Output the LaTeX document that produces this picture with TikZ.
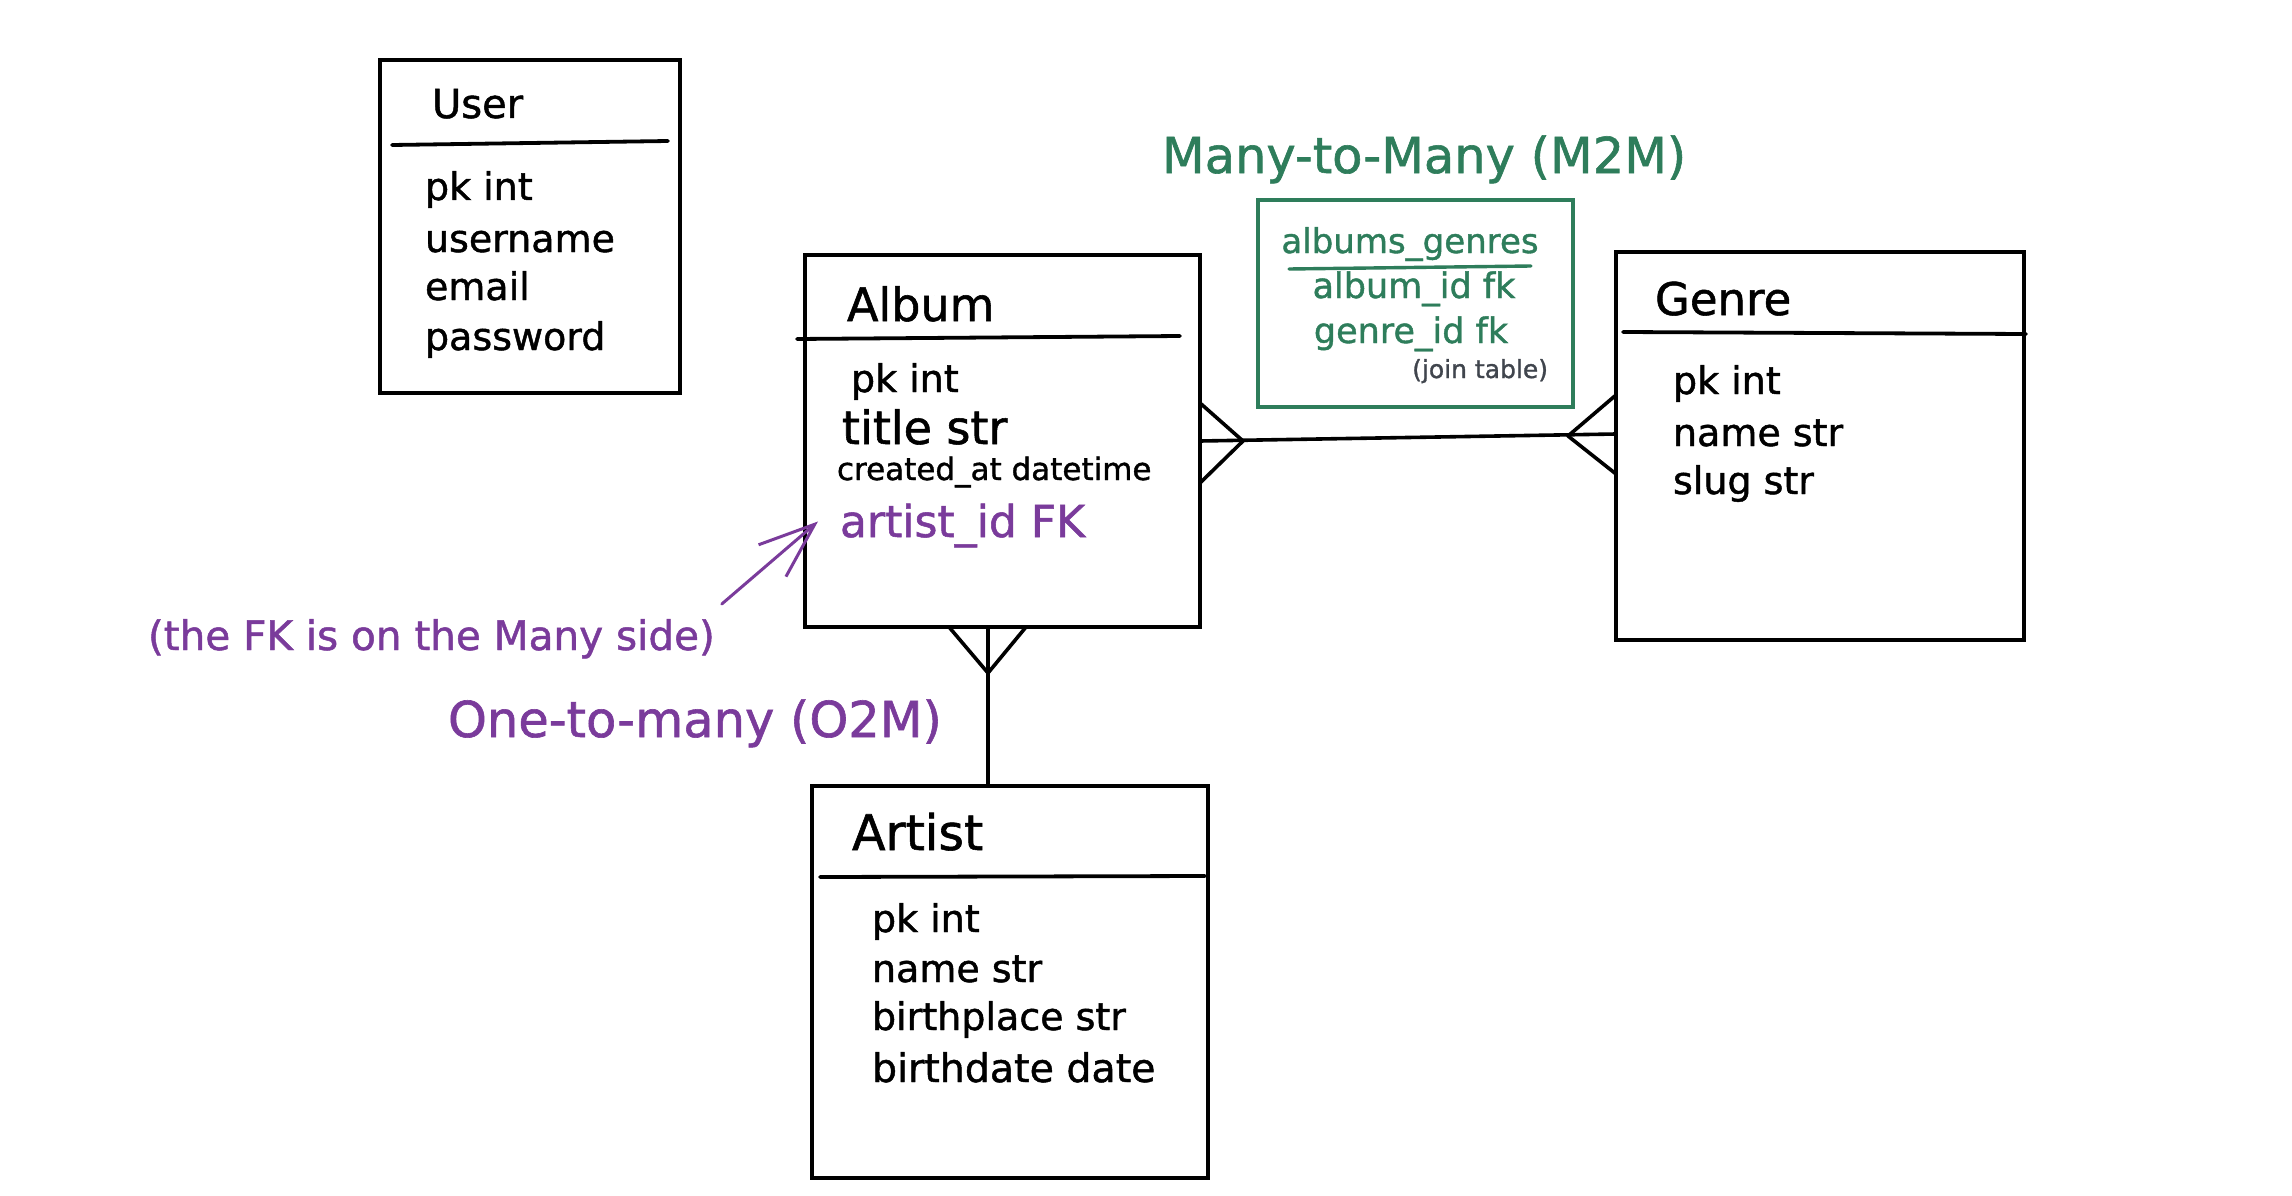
\documentclass[tikz,border=0pt]{standalone}
\usepackage{fontspec}
\setmainfont[FakeBold=0]{DejaVu Sans}
\newfontfamily\heavyfont[FakeBold=1.2]{DejaVu Sans}
\usetikzlibrary{arrows.meta,calc}
\definecolor{mgreen}{HTML}{2E7D5B}
\definecolor{mpurple}{HTML}{7A3B9B}
\definecolor{mgray}{HTML}{40454D}
\begin{document}
\begin{tikzpicture}[x=1pt,y=-1pt,
  ent/.style={draw=black,line width=3.8pt,inner sep=0pt,outer sep=0pt},
  jointbl/.style={draw=mgreen,line width=3.4pt,inner sep=0pt,outer sep=0pt},
  sepline/.style={line width=3.8pt,line cap=round},
  conn/.style={line width=3.6pt,line cap=round,line join=round},
  fs/.style={font=\heavyfont\fontsize{#1}{#1}\selectfont},
  row/.style={anchor=base west,inner sep=0pt,outer sep=0pt,fs=38},
  ttl/.style={anchor=base west,inner sep=0pt,outer sep=0pt,fs=#1},
  jrow/.style={anchor=base,inner sep=0pt,outer sep=0pt,text=mgreen,fs=#1},
  lbl/.style={anchor=base west,inner sep=0pt,outer sep=0pt,fs=#1},
  fkarrow/.style={draw=mpurple,line width=3pt,line cap=round,-{Straight Barb[length=56pt,width=42pt,line width=3pt]}}
]
\useasboundingbox[fill=white] (0,0) rectangle (2292,1196);

% ---------- entity boxes ----------
\node[ent,minimum width=300pt,minimum height=333pt] (user) at (530,226.5) {};
\node[ent,minimum width=395pt,minimum height=372pt] (album) at (1002.5,441) {};
\node[ent,minimum width=408pt,minimum height=388pt] (genre) at (1820,446) {};
\node[ent,minimum width=396pt,minimum height=392pt] (artist) at (1010,982) {};
\node[jointbl,minimum width=315pt,minimum height=207pt] (join) at (1415.5,303.5) {};

% header separators
\draw[sepline] (392,145) -- (668,141);
\draw[sepline] (797,339) -- (1180,336);
\draw[sepline] (1623,332) -- (2026,334);
\draw[sepline] (820,877) -- (1205,876);

% ---------- User ----------
\node[ttl=40] (userT) at (432,118) {User};
\node[row] (u1) at (425,200) {pk int};
\node[row] (u2) at (425,252) {username};
\node[row] (u3) at (425,300) {email};
\node[row] (u4) at (425,350) {password};

% ---------- Album ----------
\node[ttl=46] (albumT) at (847,321) {Album};
\node[row] (a1) at (851,392) {pk int};
\node[ttl=46] (a2) at (842,444) {title str};
\node[ttl=31] (a3) at (837,480) {created\_at datetime};
\node[ttl=44,text=mpurple] (a4) at (840,537) {artist\_id FK};

% ---------- Genre ----------
\node[ttl=45] (genreT) at (1655,315) {Genre};
\node[row] (g1) at (1673,394) {pk int};
\node[row] (g2) at (1673,446) {name str};
\node[row] (g3) at (1673,494) {slug str};

% ---------- Artist ----------
\node[ttl=49] (artistT) at (852,850) {Artist};
\node[row] (r1) at (872,932) {pk int};
\node[row] (r2) at (872,982) {name str};
\node[row] (r3) at (872,1030) {birthplace str};
\node[ttl=39.5] (r4) at (872,1082) {birthdate date};

% ---------- join table ----------
\node[jrow=34] (j0) at (1410,253) {albums\_genres};
\draw[mgreen,line width=3.4pt,line cap=round] (1289,269) -- (1531,266);
\node[jrow=35] (j1) at (1414,298) {album\_id fk};
\node[jrow=35] (j2) at (1411,343) {genre\_id fk};
\node[anchor=base east,inner sep=0pt,outer sep=0pt,text=mgray,fs=25] (j3) at (1548,378) {(join table)};

% ---------- labels ----------
\node[lbl=49.5,text=mgreen] (m2m) at (1162,173) {Many-to-Many (M2M)};
\node[lbl=49.5,text=mpurple] (o2m) at (448,737) {One-to-many (O2M)};
\node[lbl=40.5,text=mpurple] (fknote) at (148,650) {(the FK is on the Many side)};

% ---------- M2M connector (album >---< genre) ----------
\draw[conn] (album.east) -- ([yshift=12pt]genre.west);
\coordinate (cfA) at ([xshift=43pt]album.east);
\draw[conn] ([yshift=38pt]album.east) -- (cfA) -- ([yshift=-42pt]album.east);
\coordinate (cfG) at ([xshift=-48pt,yshift=10pt]genre.west);
\draw[conn] ([yshift=51pt]genre.west) -- (cfG) -- ([yshift=-28pt]genre.west);

% ---------- O2M connector (album >--| artist) ----------
\draw[conn] ([xshift=-14.5pt]album.south) -- ([xshift=-22pt]artist.north);
\coordinate (cfO) at ([xshift=-14.5pt,yshift=-46pt]album.south);
\draw[conn] ([xshift=-53.5pt]album.south) -- (cfO) -- ([xshift=23.5pt]album.south);

% ---------- FK note arrow ----------
\coordinate (fktail) at ([xshift=7pt,yshift=46pt]fknote.base east);
\coordinate (fktip) at ([xshift=-22pt,yshift=4pt]a4.west);
\draw[fkarrow] (fktail) -- (fktip);
\end{tikzpicture}
\end{document}
